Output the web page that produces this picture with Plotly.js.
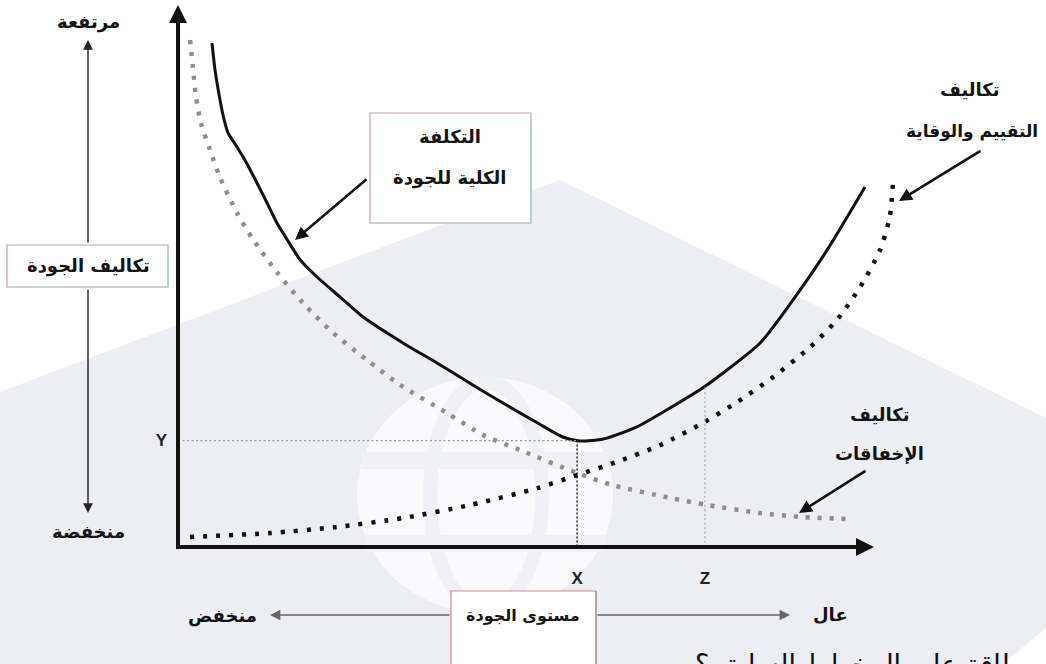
<!DOCTYPE html>
<html>
<head>
<meta charset="utf-8">
<script src="https://cdn.plot.ly/plotly-3.0.1.min.js"></script>
<style>
html,body{margin:0;padding:0;background:#fff;}
#chart{width:1046px;height:664px;}
</style>
</head>
<body>
<div id="chart"></div>
<script>
// ---------- data (quality level 0..100 along the x axis, cost 0..100 up the y axis) ----------
const totalQ      = [4.95, 5.39, 6.11, 6.55, 7.28, 8.59, 10.0, 11.5, 12.95, 14.4, 15.9, 17.8, 20.2, 23.6, 26.9, 32.8, 37.7, 42.5, 47.3, 52.3, 56.0, 58.5, 61.9, 66.8, 71.6, 76.4, 84.7, 89.5, 94.5, 100];
const totalCost   = [99.4, 94.1, 88.2, 85.2, 81.7, 78.9, 75.7, 71.8, 67.9, 63.9, 60.6, 56.6, 53.3, 49.3, 45.4, 40.2, 36.3, 32.3, 28.4, 24.5, 21.7, 20.9, 21.3, 23.7, 27.4, 31.4, 40.2, 48.7, 58.6, 71.0];

const failureQ    = [1.75, 2.18, 2.62, 3.35, 4.66, 6.11, 8.59, 10.8, 14.4, 18.2, 22.6, 27.5, 32.3, 39.2, 44.4, 49.8, 58.1, 63.3, 71.6, 77.0, 84.7, 91.0, 97.8];
const failureCost = [100, 94.5, 88.8, 83.6, 78.3, 72.9, 65.9, 60.9, 54.2, 48.1, 42.2, 36.9, 32.0, 26.4, 22.1, 19.1, 14.6, 12.2, 9.7, 8.3, 6.7, 5.9, 5.5];

const preventionQ    = [1.75, 13.4, 23.1, 32.8, 42.5, 52.3, 58.1, 63.9, 70.2, 76.7, 81.4, 86.6, 92.0, 95.9, 99.3, 102.2, 103.6, 104.1];
const preventionCost = [1.97, 2.76, 3.94, 5.72, 8.28, 11.6, 14.2, 16.8, 20.1, 24.7, 28.6, 33.5, 39.4, 44.8, 51.3, 58.6, 65.1, 72.4];

const markQ       = [58.1, 76.7];    // X (optimum) and Z
const markLabels  = ['X', 'Z'];
const markTopCost = [21.0, 31.4];    // total cost at X and Z
const minCost     = 21.0;            // Y
const costLabel   = 'Y';

const txtTitleCost  = 'تكاليف الجودة';
const txtHigh       = 'مرتفعة';
const txtLow        = 'منخفضة';
const txtTotal1     = 'التكلفة';
const txtTotal2     = 'الكلية للجودة';
const txtPrev1      = 'تكاليف';
const txtPrev2      = 'التقييم والوقاية';
const txtFail1      = 'تكاليف';
const txtFail2      = 'الإخفاقات';
const txtLevel      = 'مستوى الجودة';
const txtLevelHigh  = 'عال';
const txtLevelLow   = 'منخفض';
const txtQuestion   = 'بطاقة على المخطط السابق ؟';

// ---------- layout helpers (pixel -> paper) ----------
const W = 1046, H = 664;
const PX = x => x / W;
const PY = y => 1 - y / H;
const AR = 'DejaVu Sans';

const traces = [
  {x: failureQ, y: failureCost, mode: 'lines', line: {color: '#948b92', width: 4.5, dash: '4px,8px', shape: 'spline', smoothing: 0.7}, hoverinfo: 'skip'},
  {x: preventionQ, y: preventionCost, mode: 'lines', line: {color: '#111', width: 4.5, dash: '4px,9px', shape: 'spline', smoothing: 0.7}, hoverinfo: 'skip'},
  {x: totalQ, y: totalCost, mode: 'lines', line: {color: '#111', width: 3, shape: 'spline', smoothing: 0.6}, hoverinfo: 'skip'},
  {x: [0, markQ[0]], y: [minCost, minCost], mode: 'lines', line: {color: '#999', width: 1.3, dash: '2px,2.5px'}, hoverinfo: 'skip'},
  {x: [markQ[0], markQ[0]], y: [markTopCost[0], 0], mode: 'lines', line: {color: '#222', width: 1.5, dash: '2px,2px'}, hoverinfo: 'skip'},
  {x: [markQ[1], markQ[1]], y: [markTopCost[1], 0], mode: 'lines', line: {color: '#aaa', width: 1.3, dash: '2px,2.5px'}, hoverinfo: 'skip'}
];

const grey = '#eceef4';
function box(x0, y0, x1, y1) {
  return [
    {type: 'rect', xref: 'paper', yref: 'paper', x0: PX(x0), x1: PX(x1), y0: PY(y1), y1: PY(y0), fillcolor: '#fff', line: {color: '#c7a3a6', width: 1.2}, layer: 'above'},
    {type: 'line', xref: 'paper', yref: 'paper', x0: PX(x1), x1: PX(x1), y0: PY(y0), y1: PY(y1), line: {color: '#a6d2d8', width: 1.2}, layer: 'above'},
    {type: 'line', xref: 'paper', yref: 'paper', x0: PX(x0), x1: PX(x1), y0: PY(y1), y1: PY(y1), line: {color: '#a6d2d8', width: 1.2}, layer: 'above'}
  ];
}
function poly(pts) {
  return 'M ' + pts.map(p => PX(p[0]).toFixed(5) + ' ' + PY(p[1]).toFixed(5)).join(' L ') + ' Z';
}

const shapes = [
  // watermark background
  {type: 'path', xref: 'paper', yref: 'paper', path: poly([[0, 392], [560, 180], [1046, 418], [1046, 628], [1003, 664], [0, 664]]), fillcolor: grey, line: {width: 0}, layer: 'below'},
  {type: 'circle', xref: 'paper', yref: 'paper', x0: PX(357), x1: PX(613), y0: PY(613), y1: PY(377), fillcolor: '#fafafc', line: {width: 0}, layer: 'below'},
  {type: 'circle', xref: 'paper', yref: 'paper', x0: PX(430), x1: PX(542), y0: PY(610), y1: PY(382), fillcolor: 'rgba(0,0,0,0)', line: {color: '#f0f1f6', width: 14}, layer: 'below'},
  {type: 'rect', xref: 'paper', yref: 'paper', x0: PX(362), x1: PX(608), y0: PY(469), y1: PY(452), fillcolor: '#f0f1f6', line: {width: 0}, layer: 'below'},
  {type: 'rect', xref: 'paper', yref: 'paper', x0: PX(365), x1: PX(605), y0: PY(552), y1: PY(535), fillcolor: '#f0f1f6', line: {width: 0}, layer: 'below'},
  // axis lines
  {type: 'line', xref: 'paper', yref: 'paper', x0: PX(178), x1: PX(178), y0: PY(549), y1: PY(14), line: {color: '#111', width: 4}},
  {type: 'line', xref: 'paper', yref: 'paper', x0: PX(176), x1: PX(862), y0: PY(547), y1: PY(547), line: {color: '#111', width: 4}},
  // boxes
  ...box(370, 113, 531, 223),
  ...box(7, 245, 168, 287),
  {type: 'rect', xref: 'paper', yref: 'paper', x0: PX(451), x1: PX(596), y0: PY(680), y1: PY(591), fillcolor: '#fff', line: {color: '#d08a8e', width: 1.2}, layer: 'above'},
  {type: 'line', xref: 'paper', yref: 'paper', x0: PX(596), x1: PX(596), y0: PY(591), y1: PY(680), line: {color: '#9a9a9a', width: 1.2}, layer: 'above'}
];

function arrow(tipX, tipY, tailX, tailY, w, color, size) {
  return {xref: 'paper', yref: 'paper', x: PX(tipX), y: PY(tipY), ax: tailX - tipX, ay: tailY - tipY,
          text: '', showarrow: true, arrowhead: 2, arrowsize: size, arrowwidth: w, arrowcolor: color};
}
function label(x, y, text, size, extra) {
  return Object.assign({xref: 'paper', yref: 'paper', x: PX(x), y: PY(y), text: text, showarrow: false,
          xanchor: 'center', yanchor: 'middle', font: {family: AR, size: size, color: '#141414', weight: 'bold'}}, extra || {});
}

const annotations = [
  // axis arrowheads
  arrow(178, 5, 178, 40, 4, '#111', 0.9),
  arrow(874, 547, 840, 547, 4, '#111', 0.9),
  // vertical guide (cost)
  arrow(88, 40, 88, 244, 1.4, '#222', 1.4),
  arrow(88, 513, 88, 288, 1.4, '#222', 1.4),
  // horizontal guide (quality level)
  arrow(270, 615, 451, 615, 1.6, '#666', 1.3),
  arrow(790, 615, 596, 615, 1.6, '#666', 1.3),
  // pointers
  arrow(295, 240, 368, 178, 2.6, '#111', 1.0),
  arrow(899, 201, 982, 150, 2.6, '#111', 1.0),
  arrow(799, 513, 867, 470, 2.6, '#111', 1.0),
  // texts
  label(88, 22, txtHigh, 18),
  label(88, 266, txtTitleCost, 18),
  label(88, 531, txtLow, 18),
  label(450, 136, txtTotal1, 18),
  label(450, 178, txtTotal2, 18),
  label(970, 89, txtPrev1, 18),
  label(972, 131, txtPrev2, 17),
  label(880, 414, txtFail1, 18),
  label(879, 454, txtFail2, 18),
  label(523, 615, txtLevel, 16),
  label(830, 614, txtLevelHigh, 18),
  label(222, 616, txtLevelLow, 18),
  label(693, 647, txtQuestion, 27, {xanchor: 'left', yanchor: 'top', font: {family: 'DejaVu Serif, DejaVu Sans', size: 27, color: '#111'}})
];

const layout = {
  width: W, height: H,
  margin: {l: 0, r: 0, t: 0, b: 0, pad: 0},
  paper_bgcolor: '#fff', plot_bgcolor: '#fff',
  showlegend: false,
  xaxis: {range: [-25.910, 126.346], showgrid: false, zeroline: false, showline: false,
          anchor: 'free', position: 1 - 547 / H, side: 'bottom', ticks: '',
          tickmode: 'array', tickvals: markQ, ticktext: markLabels, ticklabelstandoff: 19,
          tickfont: {family: 'Liberation Sans', size: 17, color: '#222', weight: 'bold'}, fixedrange: true},
  yaxis: {range: [-23.077, 107.890], showgrid: false, zeroline: false, showline: false,
          anchor: 'free', position: 178 / W, side: 'left', ticks: '',
          tickmode: 'array', tickvals: [minCost], ticktext: [costLabel], ticklabelstandoff: 11,
          tickfont: {family: 'Liberation Sans', size: 17, color: '#222', weight: 'bold'}, fixedrange: true},
  shapes: shapes,
  annotations: annotations
};

Plotly.newPlot('chart', traces, layout, {displayModeBar: false, staticPlot: true});
</script>
</body>
</html>
